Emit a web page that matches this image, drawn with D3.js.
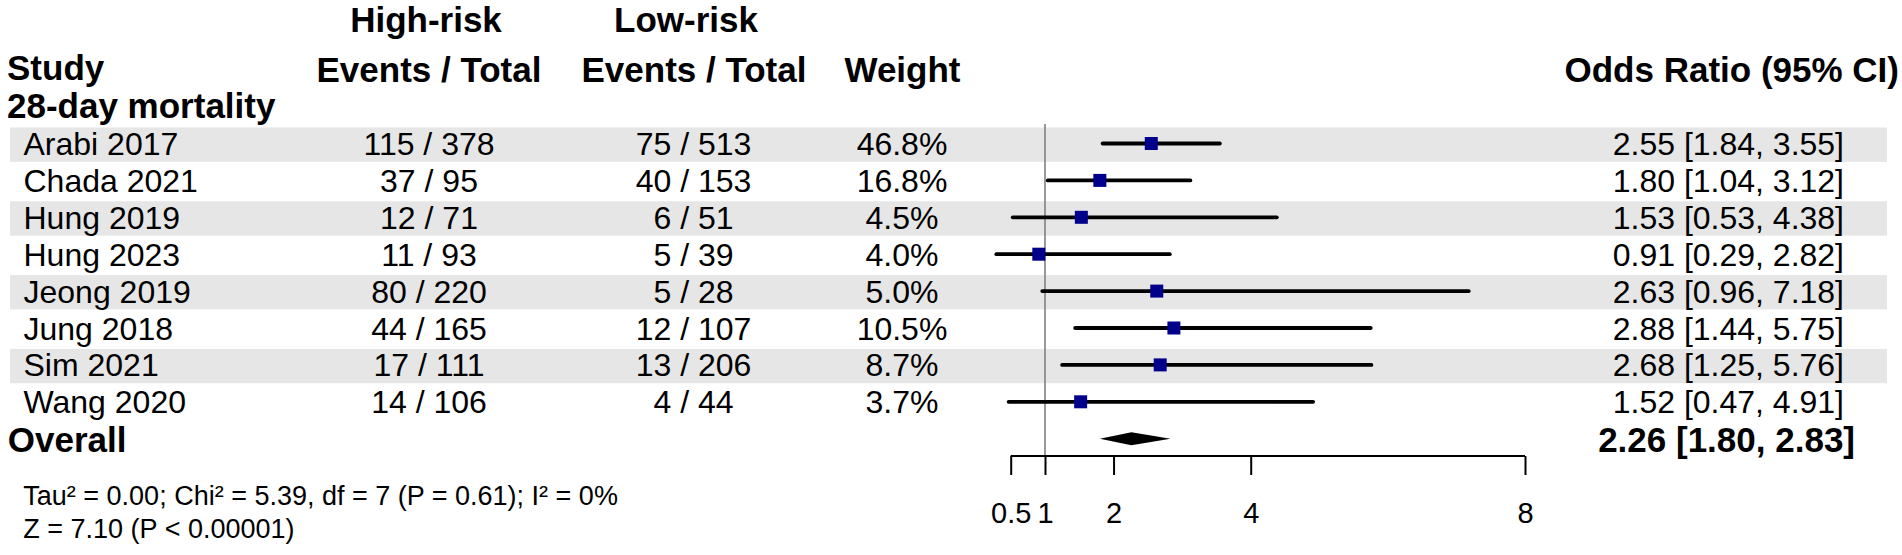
<!DOCTYPE html>
<html><head><meta charset="utf-8">
<script src="https://cdn.jsdelivr.net/npm/d3@7/dist/d3.min.js"></script>
<style>
html,body{margin:0;padding:0;background:#fff;}
svg text{font-family:"Liberation Sans",Arial,sans-serif;fill:#000;}
</style></head>
<body>
<svg id="chart" width="1902" height="555"></svg>
<script>
const studies   = ["Arabi 2017","Chada 2021","Hung 2019","Hung 2023","Jeong 2019","Jung 2018","Sim 2021","Wang 2020"];
const hrEvents  = [115, 37, 12, 11, 80, 44, 17, 14];
const hrTotal   = [378, 95, 71, 93, 220, 165, 111, 106];
const lrEvents  = [75, 40, 6, 5, 5, 12, 13, 4];
const lrTotal   = [513, 153, 51, 39, 28, 107, 206, 44];
const weights   = [46.8, 16.8, 4.5, 4.0, 5.0, 10.5, 8.7, 3.7];
const oddsRatio = [2.55, 1.80, 1.53, 0.91, 2.63, 2.88, 2.68, 1.52];
const ciLow     = [1.84, 1.04, 0.53, 0.29, 0.96, 1.44, 1.25, 0.47];
const ciHigh    = [3.55, 3.12, 4.38, 2.82, 7.18, 5.75, 5.76, 4.91];
const overall   = [2.26, 1.80, 2.83];
const axisTicks = [0.5, 1, 2, 4, 8];
const footerLines = ["Tau\u00B2 = 0.00; Chi\u00B2 = 5.39, df = 7 (P = 0.61); I\u00B2 = 0%", "Z = 7.10 (P < 0.00001)"];

const svg = d3.select("#chart");
const x = d3.scaleLinear().domain([0.5, 8]).range([1010.7, 1525]);
const y = d3.scaleLinear().domain([0, 1]).range([143.5, 180.4]);
const step = y(1) - y(0);
const f2 = d3.format(".2f");

// bands
svg.append("g").selectAll("rect").data(studies.map((s,i)=>i).filter(i=>i%2===0)).join("rect")
  .attr("x", 10).attr("width", 1877)
  .attr("y", i => y(i) - 16).attr("height", step * 0.93)
  .attr("fill", "#e6e6e6");

// headers
const hdr = svg.append("g").attr("font-weight", "bold").attr("font-size", 35);
hdr.append("text").attr("x", 7).attr("y", 79.5).text("Study");
hdr.append("text").attr("x", 426).attr("y", 31.7).attr("text-anchor","middle").text("High-risk");
hdr.append("text").attr("x", 686).attr("y", 31.7).attr("text-anchor","middle").text("Low-risk");
hdr.append("text").attr("x", 429).attr("y", 81.7).attr("text-anchor","middle").text("Events / Total");
hdr.append("text").attr("x", 694).attr("y", 81.7).attr("text-anchor","middle").text("Events / Total");
hdr.append("text").attr("x", 902.5).attr("y", 81.7).attr("text-anchor","middle").text("Weight");
hdr.append("text").attr("x", 1899).attr("y", 81.7).attr("text-anchor","end").text("Odds Ratio (95% CI)");
hdr.append("text").attr("x", 7).attr("y", 118).text("28-day mortality");
hdr.append("text").attr("x", 7.8).attr("y", y(8) + 13).text("Overall");
hdr.append("text").attr("x", 1855).attr("y", y(8) + 13).attr("text-anchor","end")
  .text(`${f2(overall[0])} [${f2(overall[1])}, ${f2(overall[2])}]`);

// row text
const rows = svg.append("g").attr("font-size", 32);
studies.forEach((s, i) => {
  const by = y(i) + 11.5;
  rows.append("text").attr("x", 23.5).attr("y", by).text(s);
  rows.append("text").attr("x", 429).attr("y", by).attr("text-anchor","middle").text(`${hrEvents[i]} / ${hrTotal[i]}`);
  rows.append("text").attr("x", 693.5).attr("y", by).attr("text-anchor","middle").text(`${lrEvents[i]} / ${lrTotal[i]}`);
  rows.append("text").attr("x", 902).attr("y", by).attr("text-anchor","middle").text(`${weights[i].toFixed(1)}%`);
  rows.append("text").attr("x", 1844).attr("y", by).attr("text-anchor","end")
    .text(`${f2(oddsRatio[i])} [${f2(ciLow[i])}, ${f2(ciHigh[i])}]`);
});

// reference line
svg.append("line").attr("x1", x(1)).attr("x2", x(1)).attr("y1", 124).attr("y2", 456)
  .attr("stroke", "#808080").attr("stroke-width", 1.6);

// CI lines
svg.append("g").selectAll("line").data(studies.map((s,i)=>i)).join("line")
  .attr("x1", i => x(ciLow[i])).attr("x2", i => x(ciHigh[i]))
  .attr("y1", i => y(i)).attr("y2", i => y(i))
  .attr("stroke", "#000").attr("stroke-width", 3.8).attr("stroke-linecap", "round");

// boxes
const bs = 13;
svg.append("g").selectAll("rect").data(studies.map((s,i)=>i)).join("rect")
  .attr("x", i => x(oddsRatio[i]) - bs/2).attr("y", i => y(i) - bs/2)
  .attr("width", bs).attr("height", bs).attr("fill", "#00008b");

// diamond
const dy = y(8);
svg.append("path")
  .attr("d", `M${x(overall[1])},${dy} L${x(overall[0])},${dy-6.5} L${x(overall[2])},${dy} L${x(overall[0])},${dy+6.5} Z`)
  .attr("fill", "#000");

// axis
const axis = d3.axisBottom(x).tickValues(axisTicks).tickSize(19).tickPadding(27).tickFormat(d3.format("~g"));
const ag = svg.append("g").attr("transform", "translate(0,456)").call(axis);
ag.select(".domain").attr("stroke", "#000").attr("stroke-width", 2).attr("d", `M${x(0.5)},0H${x(8)}`);
ag.selectAll(".tick line").attr("stroke", "#000").attr("stroke-width", 2);
ag.selectAll(".tick text").attr("font-size", 29).attr("font-family", "Liberation Sans, Arial, sans-serif").attr("fill", "#000");

// footer
const ft = svg.append("g").attr("font-size", 27);
footerLines.forEach((t, i) => ft.append("text").attr("x", 23.3).attr("y", 505 + i * 33.3).text(t));
</script>
</body></html>
